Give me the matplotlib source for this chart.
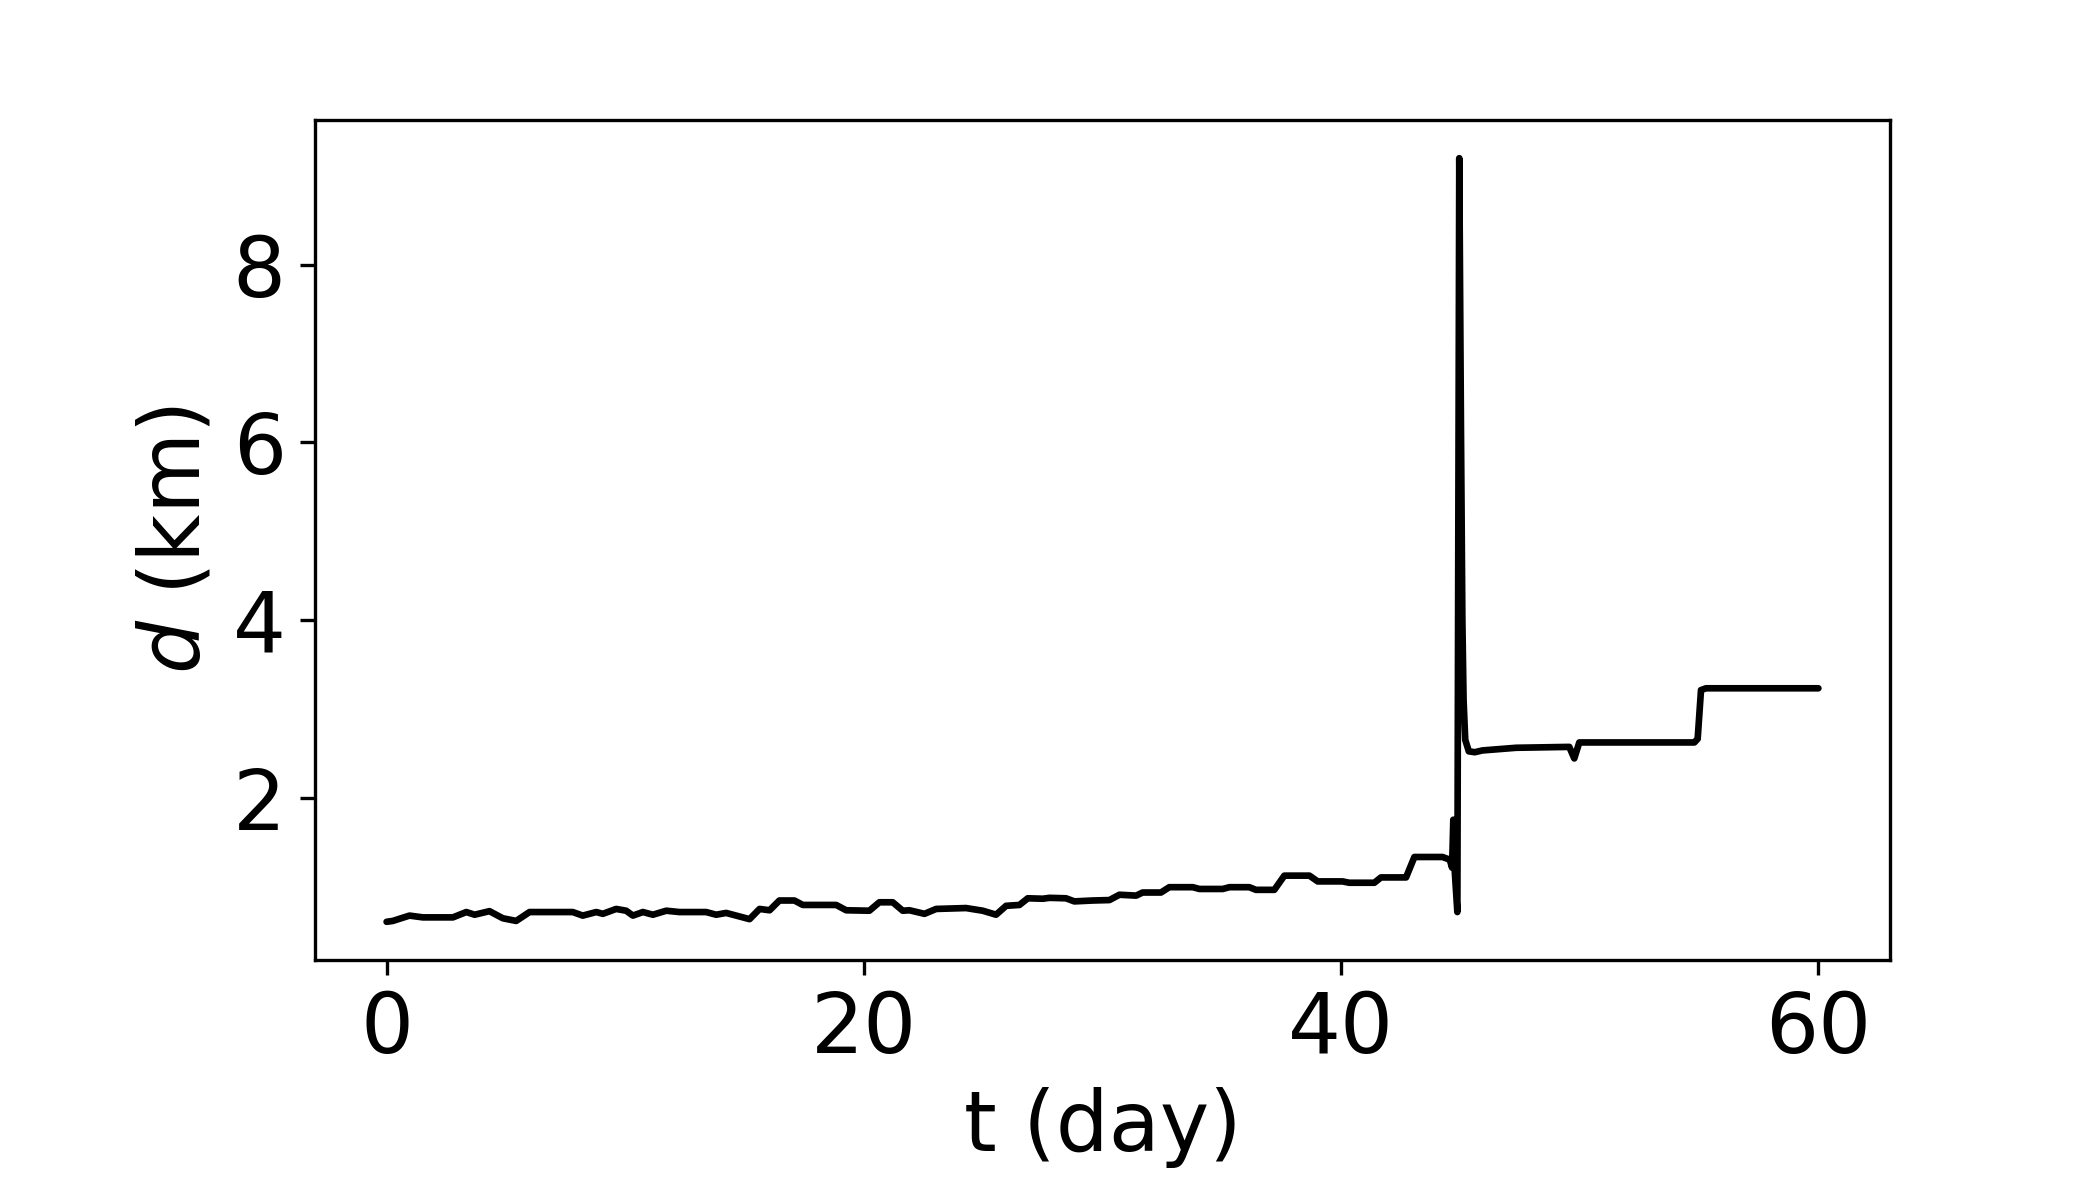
import matplotlib
matplotlib.use('Agg')
import matplotlib.pyplot as plt

#%% data (time in days, distance in km)
t_day = [0.0, 0.26, 0.96, 1.52, 2.78, 3.34, 3.69, 4.31, 4.87, 5.43, 5.99,
         7.8, 8.22, 8.79, 9.06, 9.62, 10.04, 10.32, 10.74, 11.16, 11.72,
         12.27, 13.39, 13.81, 14.23, 14.79, 15.21, 15.63, 16.05, 16.46,
         17.09, 17.44, 18.84, 19.26, 20.23, 20.65, 21.21, 21.63, 21.91,
         22.54, 23.03, 24.28, 24.98, 25.54, 25.96, 26.52, 26.87, 27.5,
         27.78, 28.47, 28.82, 29.59, 30.29, 30.71, 31.41, 31.68, 32.45,
         32.8, 33.78, 34.06, 35.04, 35.32, 36.15, 36.43, 37.2, 37.62,
         38.67, 39.02, 40.06, 40.34, 41.39, 41.67, 42.72, 43.07, 44.25,
         44.55, 44.65, 44.7, 44.75, 44.87, 44.95, 45.02, 45.08, 45.13,
         45.2, 45.35, 45.6, 45.92, 47.33, 49.56, 49.77, 49.98, 54.8,
         54.94, 55.08, 55.29, 60.0]
d_km = [0.6, 0.61, 0.67, 0.65, 0.65, 0.71, 0.68, 0.72, 0.64, 0.61, 0.71,
        0.71, 0.67, 0.71, 0.69, 0.745, 0.725, 0.67, 0.71, 0.68, 0.725,
        0.71, 0.71, 0.68, 0.70, 0.66, 0.63, 0.745, 0.73, 0.84,
        0.84, 0.79, 0.79, 0.73, 0.725, 0.82, 0.82, 0.725, 0.73,
        0.69, 0.745, 0.755, 0.725, 0.68, 0.78, 0.79, 0.865, 0.86,
        0.87, 0.865, 0.83, 0.84, 0.845, 0.905, 0.895, 0.93, 0.93,
        0.99, 0.99, 0.97, 0.97, 0.99, 0.99, 0.96, 0.96, 1.12,
        1.12, 1.055, 1.055, 1.04, 1.04, 1.10, 1.10, 1.33, 1.33,
        1.30, 1.21, 1.75, 1.22, 0.71, 9.2, 6.2, 4.0, 3.1,
        2.65, 2.52, 2.51, 2.53, 2.56, 2.57, 2.44, 2.62, 2.62,
        2.66, 3.21, 3.23, 3.23]

#%% plot
fig = plt.figure(figsize=(7, 4), dpi=300)
ax = fig.add_axes([0.15, 0.2, 0.75, 0.7])
ax.plot(t_day, d_km, color='k', linewidth=1.6,
        solid_joinstyle='round', solid_capstyle='round')

ax.set_xticks([0, 20, 40, 60])
ax.set_yticks([2, 4, 6, 8])
ax.tick_params(labelsize=20)
ax.set_xlabel('t (day)', fontsize=20)
ax.set_ylabel(r'$d$ (km)', fontsize=20)

plt.savefig('out.png', dpi=300)
